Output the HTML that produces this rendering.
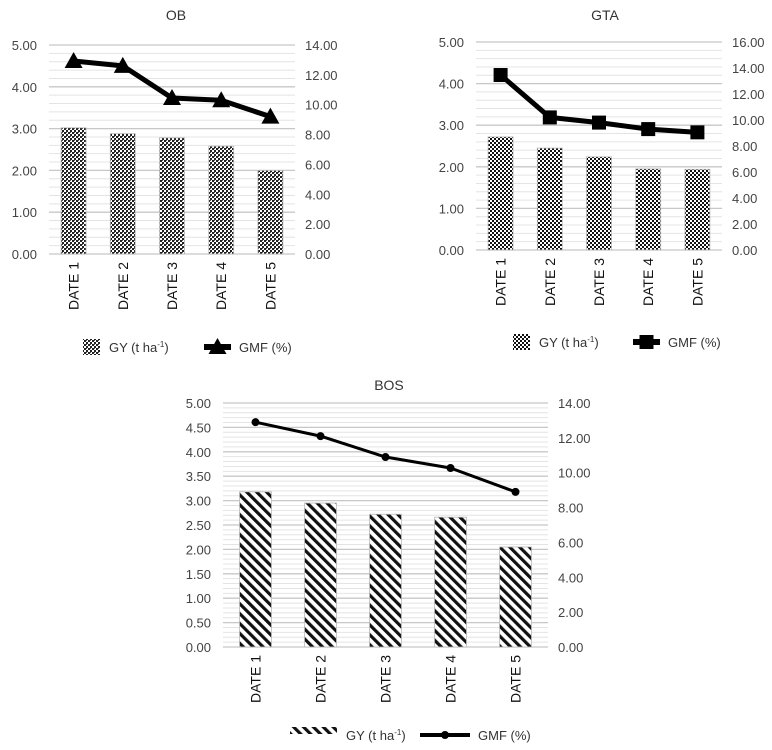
<!DOCTYPE html>
<html><head><meta charset="utf-8">
<style>
html,body{margin:0;padding:0;background:#fff;}
svg{display:block;font-family:"Liberation Sans",Arial,sans-serif;}
</style></head>
<body>
<svg id="chart" width="772" height="750" viewBox="0 0 772 750" xmlns="http://www.w3.org/2000/svg">
<defs>
<pattern id="pDots" width="4" height="4" patternUnits="userSpaceOnUse">
<rect width="4" height="4" fill="#fff"/>
<rect x="0" y="0" width="2" height="2" fill="#222"/>
<rect x="2" y="2" width="2" height="2" fill="#222"/>
<rect x="2" y="0" width="1" height="1" fill="#555"/>
</pattern>
<pattern id="pCheck" width="4" height="4" patternUnits="userSpaceOnUse">
<rect width="4" height="4" fill="#fff"/>
<rect x="0" y="0" width="2" height="2" fill="#111"/>
<rect x="2" y="2" width="2" height="2" fill="#111"/>
</pattern>
<pattern id="pDiag" width="7" height="7" patternUnits="userSpaceOnUse" patternTransform="rotate(-45)">
<rect width="7" height="7" fill="#fff"/>
<rect x="0" y="0" width="3.2" height="7" fill="#111"/>
</pattern>
</defs>
</svg>
<script>
const categories = ["DATE 1","DATE 2","DATE 3","DATE 4","DATE 5"];
const obGY = [3.02, 2.88, 2.78, 2.58, 2.00];
const obGMF = [12.93, 12.6, 10.45, 10.3, 9.2];
const gtaGY = [2.72, 2.45, 2.24, 1.95, 1.94];
const gtaGMF = [13.46, 10.2, 9.8, 9.3, 9.05];
const bosGY = [3.18, 2.95, 2.72, 2.66, 2.05];
const bosGMF = [12.9, 12.1, 10.9, 10.27, 8.9];
const obLeftTicks = ["0.00","1.00","2.00","3.00","4.00","5.00"];
const obRightTicks = ["0.00","2.00","4.00","6.00","8.00","10.00","12.00","14.00"];
const gtaLeftTicks = ["0.00","1.00","2.00","3.00","4.00","5.00"];
const gtaRightTicks = ["0.00","2.00","4.00","6.00","8.00","10.00","12.00","14.00","16.00"];
const bosLeftTicks = ["0.00","0.50","1.00","1.50","2.00","2.50","3.00","3.50","4.00","4.50","5.00"];
const bosRightTicks = ["0.00","2.00","4.00","6.00","8.00","10.00","12.00","14.00"];

const NS = "http://www.w3.org/2000/svg";
const svg = document.getElementById("chart");
function mk(tag, attrs, parent){
  const e = document.createElementNS(NS, tag);
  for (const k in attrs) e.setAttribute(k, attrs[k]);
  (parent||svg).appendChild(e);
  return e;
}

function drawChart(cfg){
  const g = mk("g", {});
  
  
  const lMax = parseFloat(cfg.leftTicks[cfg.leftTicks.length-1]);
  const rMax = parseFloat(cfg.rightTicks[cfg.rightTicks.length-1]);
  const yL = v => cfg.y0 - v / lMax * (cfg.y0 - cfg.y1);
  const yR = v => cfg.y0 - v / rMax * (cfg.y0 - cfg.y1);
  const step = (cfg.x1 - cfg.x0) / categories.length;
  const xC = i => cfg.x0 + step * (i + 0.5);

  const t = mk("text", {x: cfg.titleX, y: cfg.titleY, "font-size": 14, "text-anchor": "middle", fill: "#333"}, g);
  t.textContent = cfg.title;
  
  

  for (let v = 0; v <= lMax + 1e-9; v += cfg.minor){
    const ln = mk("line", {x1: cfg.x0, x2: cfg.x1, y1: yL(v), y2: yL(v), stroke: "#e4e4e4", "stroke-width": 1}, g);
    
    
  }
  cfg.leftTicks.forEach(s => {
    const v = parseFloat(s);
    const ln = mk("line", {x1: cfg.x0, x2: cfg.x1, y1: yL(v), y2: yL(v), stroke: "#c8c8c8", "stroke-width": 1.3}, g);
    
    
    const tx = mk("text", {x: cfg.x0 - 12, y: yL(v) + 5, "font-size": 13, "text-anchor": "end", fill: "#444"}, g);
    tx.textContent = s;
    
    
  });
  cfg.rightTicks.forEach(s => {
    const v = parseFloat(s);
    const tx = mk("text", {x: cfg.x1 + 10, y: yR(v) + 5, "font-size": 13, "text-anchor": "start", fill: "#444"}, g);
    tx.textContent = s;
    
    
  });
  cfg.gy.forEach((v, i) => {
    const r = mk("rect", {x: xC(i) - cfg.barW/2, y: yL(v), width: cfg.barW, height: cfg.y0 - yL(v), fill: "url(#" + cfg.pattern + ")", stroke: "#bbb", "stroke-width": 0.8}, g);
    
    
  });
  const pts = cfg.gmf.map((v, i) => xC(i) + "," + yR(v)).join(" ");
  const pl = mk("polyline", {points: pts, fill: "none", stroke: "#000", "stroke-width": cfg.lineW, "stroke-linejoin": "round"}, g);
  
  
  cfg.gmf.forEach((v, i) => drawMarker(g, cfg.marker, xC(i), yR(v), 'gmf-point-' + (i+1)));
  categories.forEach((c, i) => {
    const tx = mk("text", {x: 0, y: 0, "font-size": 14, "text-anchor": "end", fill: "#111",
      transform: "translate(" + (xC(i) + 5) + "," + (cfg.y0 + 8) + ") rotate(-90)"}, g);
    tx.textContent = c;
    
    
  });
  const L = cfg.legend;
  const sw = mk("rect", {x: L.sx, y: L.y - 8, width: L.sw, height: L.sh, fill: "url(#" + cfg.pattern + ")"}, g);
  
  
  const lt1 = mk("text", {x: L.sx + L.sw + 9, y: L.y + 5, "font-size": 13, fill: "#333"}, g);
  lt1.innerHTML = 'GY (t ha<tspan font-size="8" dy="-5">-1</tspan><tspan dy="5">)</tspan>';
  
  
  const ll = mk("line", {x1: L.lx, x2: L.lx + L.lw, y1: L.y, y2: L.y, stroke: "#000", "stroke-width": cfg.lineW + 1}, g);
  
  
  drawMarker(g, cfg.marker, L.lx + L.lw/2, L.y, 'legend-gmf-marker');
  const lt2 = mk("text", {x: L.lx + L.lw + 8, y: L.y + 5, "font-size": 13, fill: "#333"}, g);
  lt2.textContent = "GMF (%)";
  
  
}

function drawMarker(g, type, x, y, name){
  let m;
  if (type === "tri") m = mk("polygon", {points: (x-9)+","+(y+7)+" "+(x+9)+","+(y+7)+" "+x+","+(y-9), fill: "#000"}, g);
  else if (type === "sq") m = mk("rect", {x: x-7, y: y-7, width: 14, height: 14, fill: "#000"}, g);
  else m = mk("circle", {cx: x, cy: y, r: 4, fill: "#000"}, g);
  
  
}

drawChart({name:"ob", title:"OB", titleX:176, titleY:20, x0:49, x1:295, y0:254, y1:45,
  leftTicks:obLeftTicks, rightTicks:obRightTicks, gy:obGY, gmf:obGMF, minor:0.2, barW:25,
  pattern:"pDots", marker:"tri", lineW:5,
  legend:{sx:83, sw:17, sh:16, y:347, lx:204, lw:27}});
drawChart({name:"gta", title:"GTA", titleX:605, titleY:20, x0:476, x1:722, y0:250, y1:42,
  leftTicks:gtaLeftTicks, rightTicks:gtaRightTicks, gy:gtaGY, gmf:gtaGMF, minor:0.2, barW:25,
  pattern:"pCheck", marker:"sq", lineW:5,
  legend:{sx:513, sw:17, sh:16, y:342, lx:633, lw:27}});
drawChart({name:"bos", title:"BOS", titleX:389, titleY:390, x0:223, x1:548, y0:647, y1:403,
  leftTicks:bosLeftTicks, rightTicks:bosRightTicks, gy:bosGY, gmf:bosGMF, minor:0.1, barW:32,
  pattern:"pDiag", marker:"circ", lineW:3,
  legend:{sx:290, sw:47, sh:7, y:735, lx:420, lw:50}});
</script>
</body></html>
